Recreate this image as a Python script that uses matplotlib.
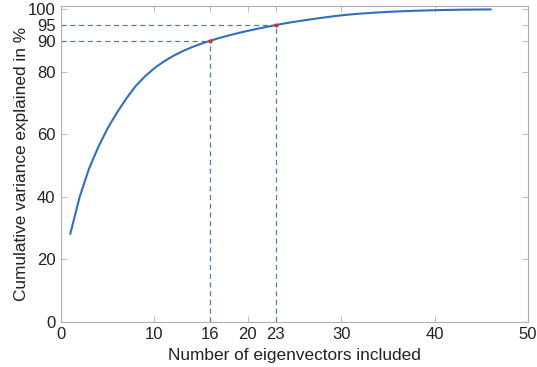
import matplotlib
matplotlib.use("Agg")
import matplotlib.pyplot as plt

n_eig = list(range(1, 47))
cum_var = [28.2, 40.0, 49.0, 56.0, 62.0, 67.0, 71.5, 75.5, 78.6, 81.2,
           83.3, 85.1, 86.6, 87.9, 89.0, 90.0, 90.9, 91.7, 92.45, 93.15,
           93.8, 94.4, 95.0, 95.55, 96.05, 96.5, 96.95, 97.35, 97.75, 98.1,
           98.4, 98.65, 98.85, 99.05, 99.2, 99.35, 99.48, 99.58, 99.67, 99.75,
           99.82, 99.87, 99.92, 99.95, 99.98, 100.0]
mark_x = [16, 23]
mark_y = [90, 95]
xticks = [0, 10, 16, 20, 23, 30, 40, 50]
yticks = [0, 20, 40, 60, 80, 90, 95, 100]

plt.rcParams['font.family'] = ['Liberation Sans', 'DejaVu Sans']

fig = plt.figure(figsize=(5.37, 3.67), dpi=100)
ax = fig.add_axes([0.1136, 0.1234, 0.8697, 0.8594])

dash_color = '#4a7cc4'
for mx, my in zip(mark_x, mark_y):
    ax.plot([0, mx], [my, my], linestyle=(0, (4, 3)), color=dash_color, lw=0.9, zorder=2)
    ax.plot([mx, mx], [0, my], linestyle=(0, (4, 3)), color=dash_color, lw=0.9, zorder=2)

ax.plot(n_eig, cum_var, color='#2f6fbf', lw=1.5, zorder=3)
ax.plot(mark_x, mark_y, 'o', color='#e8281e', ms=3, zorder=4, markeredgewidth=0)

ax.set_xlim(0, 50)
ax.set_ylim(0, 101)
ax.set_xticks(xticks)
ax.set_yticks(yticks)
ax.tick_params(direction='in', top=True, right=True, length=4, width=0.6,
               color='#b0b0b0', labelsize=12, labelcolor='#222222', pad=4)
for s in ax.spines.values():
    s.set_color('#b0b0b0')
    s.set_linewidth(0.8)

ax.set_xlabel('Number of eigenvectors included', fontsize=12.4, color='#222222', labelpad=4)
ax.set_ylabel('Cumulative variance explained in %', fontsize=12.4, color='#222222', labelpad=-1)

fig.savefig('out.png', dpi=100)
